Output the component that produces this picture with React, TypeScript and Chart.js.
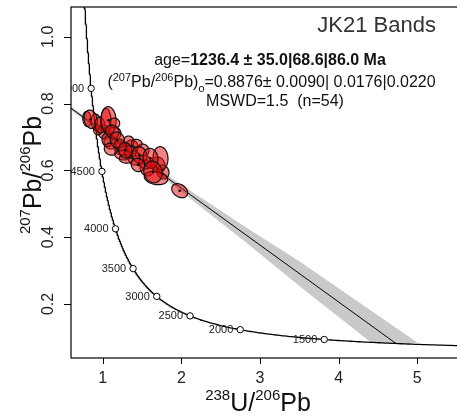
import React, { useEffect, useRef } from "react";
import { Chart, registerables } from "chart.js";

Chart.register(...registerables);

// ---------- data ----------
const xTicks = [1, 2, 3, 4, 5];
const xTickLabels = ["1", "2", "3", "4", "5"];
const yTicks = [0.2, 0.4, 0.6, 0.8, 1.0];
const yTickLabels = ["0.2", "0.4", "0.6", "0.8", "1.0"];

// concordia age markers (Ma)
const markerAges = [5000, 4500, 4000, 3500, 3000, 2500, 2000, 1500];
const markerLabels = ["5000", "4500", "4000", "3500", "3000", "2500", "2000", "1500"];

// regression results
const interceptY0 = 0.8876; // (207Pb/206Pb)o
const lowerInterceptAge = 1236.4; // Ma

// error envelope edges
const bandTopX = [0.6, 1.3, 2.0, 2.8, 3.5, 5.01];
const bandTopY = [0.7914, 0.6711, 0.5568, 0.4325, 0.3282, 0.0832];
const bandBotX = [0.6, 1.3, 2.0, 2.8, 3.5, 4.42];
const bandBotY = [0.7794, 0.6611, 0.5368, 0.3885, 0.2542, 0.0832];

// error ellipses: centre, half-extent in x and y, correlation, centre dot shown
const ellX = [1.0165, 1.1564, 1.2327, 1.3725, 1.398, 1.5124, 1.5632, 1.7031, 1.7667, 1.3344, 1.0928, 0.9148,
  0.8004, 0.8474, 0.9364, 0.9657, 1.042, 1.075, 1.1526, 1.0547, 1.122, 1.1055, 1.22, 1.1856, 1.4323, 1.2581, 1.2962, 1.3471, 1.2873, 1.7349, 1.5378, 1.6777, 1.4679, 1.6078, 1.4488, 1.6395, 1.979];
const ellY = [0.715, 0.712, 0.6671, 0.6731, 0.6371, 0.6611, 0.6072, 0.6162, 0.5952, 0.688, 0.685, 0.7449,
  0.7539, 0.753, 0.721, 0.7359, 0.7509, 0.75, 0.7419, 0.691, 0.7159, 0.6635, 0.676, 0.691, 0.6811, 0.6461, 0.6341, 0.6551, 0.6602, 0.6362, 0.6251, 0.5772, 0.6461, 0.6362, 0.6162, 0.5952, 0.5392];
const ellSX = [0.0763, 0.0763, 0.089, 0.0763, 0.0763, 0.0763, 0.089, 0.089, 0.0763, 0.0636, 0.0763, 0.0636,
  0.0534, 0.0852, 0.0534, 0.0636, 0.0636, 0.0954, 0.0636, 0.0636, 0.0852, 0.0852, 0.0763, 0.0915, 0.0674, 0.1055, 0.0852, 0.0763, 0.0852, 0.0954, 0.0763, 0.1488, 0.0954, 0.0954, 0.0852, 0.117, 0.1017];
const ellSY = [0.021, 0.018, 0.021, 0.018, 0.021, 0.018, 0.024, 0.024, 0.021, 0.015, 0.021, 0.024,
  0.0225, 0.0275, 0.015, 0.024, 0.035, 0.041, 0.015, 0.02, 0.02, 0.018, 0.018, 0.024, 0.012, 0.015, 0.0126, 0.018, 0.0234, 0.035, 0.021, 0.02, 0.0249, 0.0299, 0.02, 0.0323, 0.021];
const ellRho = [-0.1, -0.1, -0.1, -0.1, -0.1, -0.1, -0.1, -0.1, -0.1, -0.1, -0.1, -0.1,
  -0.1, -0.15, -0.1, -0.1, -0.05, -0.05, -0.1, -0.1, -0.1, -0.1, -0.1, -0.1, -0.1, -0.15, -0.1, -0.1, -0.1, -0.05, -0.1, -0.2, -0.1, -0.1, -0.1, -0.1, -0.3];
const ellDot = [0, 0, 0, 0, 0, 0, 0, 0, 0, 0, 0, 0,
  0, 1, 0, 0, 0, 1, 0, 0, 0, 0, 0, 1, 0, 0, 0, 0, 1, 0, 0, 0, 1, 1, 1, 1, 1];

// ---------- Tera-Wasserburg concordia (decay constants, per Ma) ----------
const L238 = 1.55125e-4;
const L235 = 9.8485e-4;
const U238_U235 = 137.818;
function tw(t: number) {
  const e8 = Math.exp(L238 * t) - 1;
  const e5 = Math.exp(L235 * t) - 1;
  return { x: 1 / e8, y: e5 / e8 / U238_U235 };
}

const FONT = "'Liberation Sans', Arial, Helvetica, sans-serif";

const overlay = {
  id: "overlay",
  beforeDatasetsDraw(chart: any) {
    const { ctx, chartArea: a } = chart;
    const xs = chart.scales.x;
    const ys = chart.scales.y;
    ctx.save();
    ctx.beginPath();
    ctx.rect(a.left, a.top, a.right - a.left, a.bottom - a.top);
    ctx.clip();
    ctx.beginPath();
    for (let i = 0; i < bandTopX.length; i++) {
      const px = xs.getPixelForValue(bandTopX[i]);
      const py = ys.getPixelForValue(bandTopY[i]);
      i === 0 ? ctx.moveTo(px, py) : ctx.lineTo(px, py);
    }
    for (let i = bandBotX.length - 1; i >= 0; i--) {
      ctx.lineTo(xs.getPixelForValue(bandBotX[i]), ys.getPixelForValue(bandBotY[i]));
    }
    ctx.closePath();
    ctx.fillStyle = "#c9c9c9";
    ctx.fill();
    ctx.restore();
  },
  afterDatasetsDraw(chart: any) {
    const { ctx, chartArea: a } = chart;
    const xs = chart.scales.x;
    const ys = chart.scales.y;
    ctx.save();
    ctx.beginPath();
    ctx.rect(a.left, a.top, a.right - a.left, a.bottom - a.top);
    ctx.clip();
    // ellipses
    for (let i = 0; i < ellX.length; i++) {
      const n = 64;
      const r = ellRho[i];
      const q = Math.sqrt(1 - r * r);
      ctx.beginPath();
      for (let k = 0; k <= n; k++) {
        const t = (2 * Math.PI * k) / n;
        const dx = ellSX[i] * Math.cos(t);
        const dy = ellSY[i] * (r * Math.cos(t) + q * Math.sin(t));
        const px = xs.getPixelForValue(ellX[i] + dx);
        const py = ys.getPixelForValue(ellY[i] + dy);
        k === 0 ? ctx.moveTo(px, py) : ctx.lineTo(px, py);
      }
      ctx.closePath();
      ctx.fillStyle = "rgba(225,10,10,0.5)";
      ctx.fill();
      ctx.lineWidth = 1.2;
      ctx.strokeStyle = "#111";
      ctx.stroke();
      if (ellDot[i]) {
        ctx.beginPath();
        ctx.arc(xs.getPixelForValue(ellX[i]), ys.getPixelForValue(ellY[i]), 1.3, 0, Math.PI * 2);
        ctx.fillStyle = "#000";
        ctx.fill();
      }
    }
    // concordia age labels
    ctx.font = `11px ${FONT}`;
    ctx.fillStyle = "#222";
    ctx.textAlign = "right";
    ctx.textBaseline = "middle";
    for (let i = 0; i < markerAges.length; i++) {
      const p = tw(markerAges[i]);
      ctx.fillText(markerLabels[i], xs.getPixelForValue(p.x) - 7, ys.getPixelForValue(p.y) + 0.5);
    }
    ctx.restore();
  },
  afterDraw(chart: any) {
    const { ctx, chartArea: a } = chart;
    const xs = chart.scales.x;
    const ys = chart.scales.y;
    ctx.save();
    // box
    ctx.strokeStyle = "#000";
    ctx.lineWidth = 1.2;
    ctx.strokeRect(a.left, a.top, a.right - a.left, a.bottom - a.top);
    // ticks
    ctx.lineWidth = 1;
    ctx.beginPath();
    xTicks.forEach((v) => {
      const px = Math.round(xs.getPixelForValue(v)) + 0.5;
      ctx.moveTo(px, a.bottom);
      ctx.lineTo(px, a.bottom + 6);
    });
    yTicks.forEach((v) => {
      const py = Math.round(ys.getPixelForValue(v)) + 0.5;
      ctx.moveTo(a.left, py);
      ctx.lineTo(a.left - 7, py);
    });
    ctx.stroke();
    // tick labels
    ctx.fillStyle = "#222";
    ctx.font = `16px ${FONT}`;
    ctx.textAlign = "center";
    ctx.textBaseline = "alphabetic";
    xTicks.forEach((v, i) => ctx.fillText(xTickLabels[i], xs.getPixelForValue(v), 383));
    yTicks.forEach((v, i) => {
      ctx.save();
      ctx.translate(53, ys.getPixelForValue(v));
      ctx.rotate(-Math.PI / 2);
      ctx.fillText(yTickLabels[i], 0, 0);
      ctx.restore();
    });

    // text with super/subscripts
    const drawParts = (parts: { t: string; size: number; dy: number; bold?: boolean }[], cx: number, base: number) => {
      let w = 0;
      parts.forEach((p) => {
        ctx.font = `${p.bold ? "bold " : ""}${p.size}px ${FONT}`;
        w += ctx.measureText(p.t).width;
      });
      let x = cx - w / 2;
      ctx.textAlign = "left";
      parts.forEach((p) => {
        ctx.font = `${p.bold ? "bold " : ""}${p.size}px ${FONT}`;
        ctx.fillText(p.t, x, base + p.dy);
        x += ctx.measureText(p.t).width;
      });
    };
    ctx.fillStyle = "#111";
    drawParts(
      [
        { t: "238", size: 15, dy: -11 },
        { t: "U/", size: 25, dy: 0 },
        { t: "206", size: 15, dy: -11 },
        { t: "Pb", size: 25, dy: 0 },
      ],
      258,
      411
    );
    ctx.save();
    ctx.translate(41, 175);
    ctx.rotate(-Math.PI / 2);
    drawParts(
      [
        { t: "207", size: 15, dy: -11 },
        { t: "Pb/", size: 25, dy: 0 },
        { t: "206", size: 15, dy: -11 },
        { t: "Pb", size: 25, dy: 0 },
      ],
      0,
      0
    );
    ctx.restore();

    // title
    ctx.fillStyle = "#333";
    ctx.font = `22px ${FONT}`;
    ctx.textAlign = "right";
    ctx.fillText("JK21 Bands", 436, 31.5);

    // result text
    ctx.fillStyle = "#111";
    drawParts(
      [
        { t: "age=", size: 16, dy: 0 },
        { t: "1236.4 \u00b1 35.0|68.6|86.0 Ma", size: 16, dy: 0, bold: true },
      ],
      270,
      65
    );
    drawParts(
      [
        { t: "(", size: 16, dy: 0 },
        { t: "207", size: 11, dy: -6 },
        { t: "Pb/", size: 16, dy: 0 },
        { t: "206", size: 11, dy: -6 },
        { t: "Pb)", size: 16, dy: 0 },
        { t: "o", size: 11, dy: 4.5 },
        { t: "=0.8876\u00b1 0.0090| 0.0176|0.0220", size: 16, dy: 0 },
      ],
      271.5,
      87
    );
    drawParts([{ t: "MSWD=1.5  (n=54)", size: 16, dy: 0 }], 275, 105.5);
    ctx.restore();
  },
};

export default function App() {
  const ref = useRef<HTMLCanvasElement>(null);
  useEffect(() => {
    if (!ref.current) return;
    const concordia: { x: number; y: number }[] = [];
    for (let t = 600; t <= 6000; t += 10) concordia.push(tw(t));
    const lower = tw(lowerInterceptAge);
    const discordia = [
      { x: 0, y: interceptY0 },
      { x: lower.x, y: lower.y },
    ];
    const markers = markerAges.map((t) => tw(t));

    const chart = new Chart(ref.current, {
      type: "scatter",
      data: {
        datasets: [
          {
            data: markers,
            showLine: false,
            pointRadius: 3.2,
            pointBackgroundColor: "#fff",
            pointBorderColor: "#000",
            pointBorderWidth: 1,
            order: 0,
          },
          {
            data: concordia,
            showLine: true,
            pointRadius: 0,
            borderColor: "#000",
            borderWidth: 1.3,
            order: 1,
          },
          {
            data: discordia,
            showLine: true,
            pointRadius: 0,
            borderColor: "#000",
            borderWidth: 1,
            order: 2,
          },
        ],
      },
      options: {
        animation: false,
        responsive: false,
        devicePixelRatio: 1,
        events: [],
        layout: { padding: { left: 71, top: 7, right: 9, bottom: 59 } },
        scales: {
          x: { type: "linear", display: false, min: 0.597, max: 5.683 },
          y: { type: "linear", display: false, min: 0.0383, max: 1.0892 },
        },
        plugins: { legend: { display: false }, tooltip: { enabled: false } },
      },
      plugins: [overlay],
    });
    return () => chart.destroy();
  }, []);
  return (
    <div style={{ position: "absolute", left: 0, top: 0, width: 457, height: 417, overflow: "hidden", background: "#fff" }}>
      <canvas ref={ref} width={480} height={417} style={{ display: "block" }} />
    </div>
  );
}
